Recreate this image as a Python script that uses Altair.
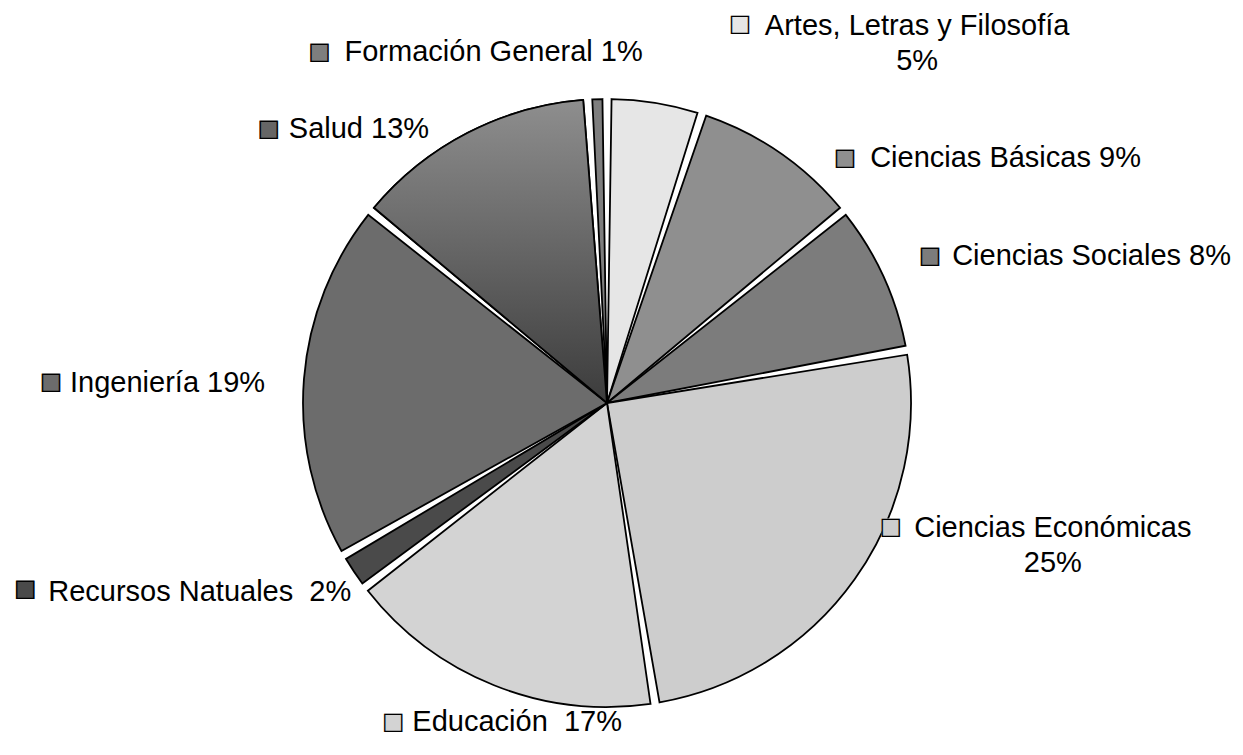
import altair as alt
import pandas as pd

# ---------------- data ----------------
categories = [
    "Artes, Letras y Filosofía",
    "Ciencias Básicas",
    "Ciencias Sociales",
    "Ciencias Económicas",
    "Educación",
    "Recursos Natuales",
    "Ingeniería",
    "Salud",
    "Formación General",
]
values = [5, 9, 8, 25, 17, 2, 19, 13, 1]
labels = [
    "Artes, Letras y Filosofía|5%",
    "Ciencias Básicas 9%",
    "Ciencias Sociales 8%",
    "Ciencias Económicas|25%",
    "Educación\u00a0\u00a017%",
    "Recursos Natuales\u00a0\u00a02%",
    "Ingeniería 19%",
    "Salud 13%",
    "Formación General 1%",
]
# grey tones standing in for the hatch patterns
shades = ["#e6e6e6", "#8f8f8f", "#7c7c7c", "#cdcdcd", "#d3d3d3",
          "#4a4a4a", "#6c6c6c", "#666666", "#7e7e7e"]

df = pd.DataFrame({
    "cat": categories,
    "value": values,
    "label": labels,
    "order": list(range(len(categories))),
})

# ---------------- layout (code, not data) ----------------
W, H = 1198, 688
R = 304
LR = 330  # anchor radius for labels
FONT = "Liberation Sans"
PAD = 0.03

# per label: text dx, dy, align ; marker dx, dy
LAYOUT = {
    "Artes, Letras y Filosofía": (258, -51, "center", 81, -53),
    "Ciencias Básicas": (76, 27, "left", 51, 27),
    "Ciencias Sociales": (45, -10, "left", 23, -10),
    "Ciencias Económicas": (177, -66, "center", 15, -67),
    "Educación": (-72, 13, "left", -91, 13),
    "Recursos Natuales": (-284, 6, "left", -307, 3),
    "Ingeniería": (-208, 6, "left", -227, 5),
    "Salud": (-167, 19, "left", -187, 19),
    "Formación General": (-252, -21, "left", -277, -21),
}

theta = alt.Theta("value:Q", stack=True)
order = alt.Order("order:Q", sort="ascending")
color = alt.Color("cat:N", scale=alt.Scale(domain=categories, range=shades), legend=None)

base = alt.Chart(df)

pie = base.mark_arc(radius=R, padAngle=PAD, stroke="black", strokeWidth=1.8).encode(
    theta=theta, order=order, color=color
)

salud_grad = alt.LinearGradient(
    gradient="linear",
    stops=[alt.GradientStop(color="#8e8e8e", offset=0),
           alt.GradientStop(color="#3c3c3c", offset=1)],
    x1=0, x2=0, y1=0, y2=1,
)
salud = base.mark_arc(radius=R, padAngle=PAD, stroke="black", strokeWidth=1.8,
                      fill=salud_grad).encode(
    theta=theta, order=order,
    opacity=alt.condition(alt.datum.cat == "Salud", alt.value(1), alt.value(0)),
)

layers = [pie, salud]

for cat in categories:
    tdx, tdy, align, mdx, mdy = LAYOUT[cat]
    sel = alt.datum.cat == cat
    txt = base.mark_text(
        radius=LR, dx=tdx, dy=tdy, align=align, baseline="middle",
        font=FONT, fontSize=29, lineBreak="|", lineHeight=35, color="black",
    ).encode(
        theta=theta, order=order,
        text=alt.condition(sel, alt.Text("label:N"), alt.value("")),
    )
    mfill = base.mark_text(
        radius=LR, dx=mdx, dy=mdy, align="center", baseline="middle",
        font="DejaVu Sans", fontSize=24,
    ).encode(
        theta=theta, order=order, color=color,
        text=alt.condition(sel, alt.value("\u25a0"), alt.value("")),
    )
    mline = base.mark_text(
        radius=LR, dx=mdx, dy=mdy, align="center", baseline="middle",
        font="DejaVu Sans", fontSize=24, color="black",
    ).encode(
        theta=theta, order=order,
        text=alt.condition(sel, alt.value("\u25a1"), alt.value("")),
    )
    layers += [mfill, mline, txt]

chart = alt.layer(*layers).properties(
    width=W, height=H,
    padding={"left": 0, "top": 51, "right": 29, "bottom": 0},
    autosize=alt.AutoSizeParams(type="none"),
    background="white",
).configure_view(stroke=None)

chart.save("out.html", embed_options={"renderer": "svg", "actions": False})
